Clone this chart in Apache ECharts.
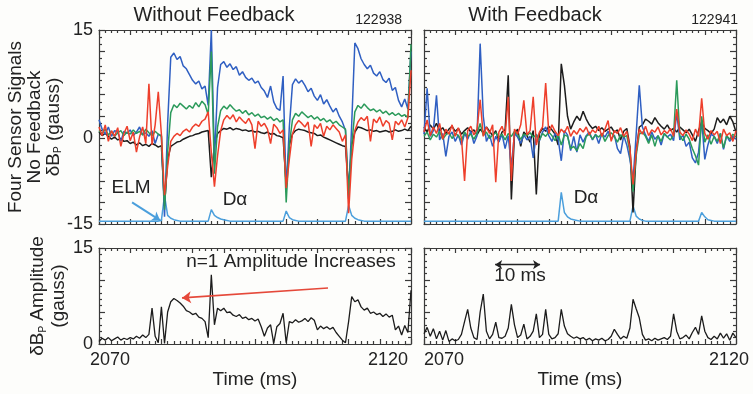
<!DOCTYPE html>
<html>
<head>
<meta charset="utf-8">
<script src="https://cdn.jsdelivr.net/npm/echarts@6/dist/echarts.min.js"></script>
<style>
html,body{margin:0;padding:0;background:#fdfdfb;}
#chart{width:753px;height:394px;}
</style>
</head>
<body>
<div id="chart"></div>
<script>
// Time base: samples every 0.5 ms from 2070 ms to 2120 ms (101 samples)
const t0 = 2070;
const dt = 0.5;
const timeTicks = [2070, 2120];

// Shot 122938 (no feedback): four magnetic sensor signals, gauss
const noFbBlack = [
  0.8,0.3,0.6,0.2,-0.2,0.1,-0.3,-0.1,-0.5,-0.4,
  -0.8,-0.6,-1.0,-0.7,-1.1,-0.9,-1.2,-0.8,-1.0,-1.3,
  -1.1,-9.5,-3.0,-1.2,-0.9,-0.6,-0.5,-0.2,0.0,0.2,
  0.3,0.5,0.6,0.8,0.9,1.0,-5.5,-1.0,0.6,1.0,
  1.3,1.2,1.4,1.1,1.3,1.2,1.0,1.1,0.9,1.0,
  0.8,0.9,0.7,0.6,0.8,0.5,0.6,0.3,0.2,0.0,
  -6.5,-1.0,0.5,1.0,1.2,1.1,1.0,0.8,0.7,0.6,
  0.3,0.4,0.1,-0.1,-0.3,-0.5,-0.7,-0.9,-1.1,-1.2,
  -7.0,-1.0,0.8,1.5,1.4,1.2,1.0,1.1,0.9,1.0,
  0.8,0.9,1.0,0.8,0.9,1.1,0.9,1.0,1.2,1.0,
  1.6
];
const noFbBlue = [
  2.5,1.2,0.5,1.5,0.2,1.0,0.8,-0.5,0.9,0.6,
  1.1,0.3,0.8,1.5,0.4,0.7,0.2,1.0,-0.8,0.5,
  0.3,-11.0,2.0,11.2,11.8,10.9,11.3,10.0,9.6,8.8,
  8.0,7.5,7.9,6.8,7.2,4.5,15.0,-3.0,7.0,10.2,
  10.6,9.8,10.3,9.5,9.9,8.7,9.2,8.4,8.0,8.3,
  7.6,7.9,7.0,6.5,5.6,7.2,5.0,4.1,3.8,8.6,
  -7.5,1.5,7.4,8.2,7.6,8.0,7.3,6.4,6.9,5.8,
  5.2,6.0,4.7,5.3,4.4,3.6,4.1,3.0,2.2,1.0,
  -8.5,2.0,13.2,12.4,11.0,10.2,9.6,10.1,9.0,8.6,
  9.2,8.1,7.7,8.3,6.6,7.0,5.2,4.3,5.4,4.0,
  12.0
];
const noFbGreen = [
  1.0,0.6,1.2,0.4,0.9,0.2,0.7,1.0,0.3,0.8,
  0.5,1.1,0.6,0.9,0.4,1.2,0.7,0.3,0.9,0.5,
  0.2,-10.0,-2.0,3.5,4.6,4.2,4.8,4.4,4.0,4.5,
  4.1,4.9,4.3,5.1,4.6,3.2,12.0,-5.0,1.5,3.8,
  4.4,4.0,4.6,4.1,3.7,3.9,3.4,3.8,3.2,3.5,
  3.0,3.3,2.8,3.0,2.6,2.9,2.4,2.7,2.2,2.5,
  -9.0,-1.0,2.5,3.4,3.0,3.6,3.2,2.8,3.1,2.6,
  2.9,2.4,2.7,2.2,2.5,2.0,2.3,1.8,1.5,1.2,
  -8.0,-1.0,3.6,4.5,4.1,4.7,4.2,3.8,4.0,3.6,
  3.9,3.4,3.7,3.2,3.5,3.1,3.4,3.0,3.2,2.8,
  13.0
];
const noFbRed = [
  1.5,0.3,1.8,-0.5,1.0,0.2,1.4,-1.2,0.6,1.6,
  -0.4,0.8,-2.0,0.1,1.5,-0.8,7.5,-1.0,1.8,6.4,
  0.5,-8.0,-4.0,-0.5,0.2,0.6,0.3,0.9,1.2,0.8,
  1.5,1.9,1.6,2.3,2.6,3.6,-2.0,-6.8,-2.5,1.0,
  2.5,3.1,2.6,3.2,2.2,2.9,2.4,2.0,2.7,1.8,
  -1.5,2.3,1.6,2.0,1.2,-0.8,1.9,1.4,0.6,1.1,
  -7.0,-3.0,0.5,1.8,2.4,2.0,1.5,2.2,-1.2,1.8,
  1.3,2.0,0.2,1.6,1.1,1.8,1.3,0.8,-0.5,0.4,
  -10.5,-3.0,1.0,2.2,2.8,2.4,3.0,-0.5,2.6,2.1,
  2.9,1.6,2.4,2.0,-0.3,2.3,1.8,2.5,1.5,2.8,
  9.4
];
// D-alpha emission trace, drawn along the bottom of the panel
const noFbDalpha = [
  -11.6,-11.6,-11.6,-11.6,-11.6,-11.6,-11.6,-11.6,-11.6,-11.6,
  -11.6,-11.6,-11.6,-11.6,-11.6,-11.6,-11.6,-11.6,-11.6,-11.6,
  -11.5,-8.0,-10.8,-11.2,-11.4,-11.5,-11.6,-11.6,-11.6,-11.6,
  -11.6,-11.6,-11.6,-11.6,-11.6,-11.6,-10.0,-10.8,-11.1,-11.3,
  -11.4,-11.5,-11.6,-11.6,-11.6,-11.6,-11.6,-11.6,-11.6,-11.6,
  -11.6,-11.6,-11.6,-11.6,-11.6,-11.6,-11.6,-11.6,-11.6,-11.6,
  -10.2,-11.1,-11.4,-11.5,-11.6,-11.6,-11.6,-11.6,-11.6,-11.6,
  -11.6,-11.6,-11.6,-11.6,-11.6,-11.6,-11.6,-11.6,-11.6,-11.6,
  -9.4,-10.8,-11.2,-11.4,-11.5,-11.6,-11.6,-11.6,-11.6,-11.6,
  -11.6,-11.6,-11.6,-11.6,-11.6,-11.6,-11.6,-11.6,-11.6,-11.6,
  -11.6
];

// Shot 122941 (with feedback)
const fbBlack = [
  1.5,0.8,1.8,1.2,2.0,1.0,1.4,0.6,1.2,1.6,
  0.9,1.3,0.5,1.0,1.4,0.8,1.1,0.4,1.2,0.7,
  1.5,0.9,0.3,1.0,-0.5,0.8,1.1,8.7,-8.6,0.5,
  1.2,-1.2,0.8,0.3,-0.6,1.0,-7.9,0.6,1.3,0.9,
  1.6,1.1,0.5,-1.0,10.3,7.3,3.0,1.2,2.2,3.0,
  2.4,3.7,2.6,1.8,1.3,1.6,1.0,1.4,0.9,1.2,
  1.5,0.8,1.1,-0.3,0.9,1.3,-1.2,-10.4,-2.0,1.5,
  1.8,2.6,2.3,1.9,2.8,2.1,1.6,1.2,1.8,1.0,
  1.3,0.8,1.5,1.1,0.7,1.2,0.4,-0.5,1.0,2.2,
  1.3,1.0,0.6,1.2,2.8,2.1,2.6,1.8,3.0,2.2,
  0.8
];
const fbBlue = [
  0.5,6.9,0.2,1.0,5.9,-0.3,0.6,-2.6,0.2,0.8,
  -0.5,0.4,-1.0,0.6,-0.2,0.9,-0.8,0.3,13.1,3.0,
  -0.5,0.4,-1.2,0.2,-0.6,0.5,-1.5,0.3,-4.0,0.6,
  0.1,-0.8,0.4,-0.3,0.2,-2.8,0.5,-0.4,0.8,1.5,
  0.3,-0.5,0.6,-0.2,-3.2,1.0,0.4,-1.8,0.2,-2.0,
  0.4,-0.6,0.3,0.8,-0.3,0.5,-0.8,0.6,0.1,0.9,
  -0.2,0.4,-1.5,-2.2,0.3,-1.0,-3.0,-6.0,0.5,7.3,
  1.5,0.4,-0.5,0.8,-0.2,0.3,-1.0,0.6,0.1,0.5,
  -0.4,3.5,-0.3,0.4,-1.2,-0.6,-2.8,-3.5,-2.0,2.5,
  -3.0,-1.0,0.5,0.2,-0.8,0.6,-1.6,0.3,-0.5,0.2,
  -0.2
];
const fbGreen = [
  0.2,0.8,-0.3,0.5,0.1,0.9,-0.2,0.4,0.7,-0.1,
  0.6,0.3,-0.4,0.8,0.2,0.5,-0.2,0.6,2.0,0.3,
  0.8,-0.1,0.4,0.7,0.1,0.5,-0.3,0.6,0.2,0.9,
  0.4,-0.2,0.5,0.3,0.7,0.1,0.4,-0.3,0.6,0.2,
  0.8,0.3,-0.4,0.5,-1.0,0.4,0.2,-1.5,-1.2,-1.8,
  -0.8,-1.5,0.2,0.5,-0.2,0.4,0.1,0.6,-0.5,0.3,
  0.7,0.2,-0.6,0.4,0.1,0.3,-2.0,-7.5,-2.5,0.5,
  0.8,0.2,-0.8,0.4,-1.2,0.3,-0.5,0.6,0.1,-0.3,
  0.4,8.0,0.3,-0.4,0.5,-0.2,-1.5,-2.5,-3.8,3.0,
  -0.6,0.4,-0.9,0.2,-0.5,0.6,-1.4,0.3,-0.2,0.5,
  0.1
];
const fbRed = [
  0.8,2.5,0.3,1.5,0.6,2.0,-0.2,1.2,0.5,1.8,
  0.2,1.4,0.0,-6.0,1.0,1.6,0.4,1.2,5.3,0.2,
  1.5,0.6,1.8,-6.2,0.8,1.6,0.3,5.7,-6.0,1.2,
  0.5,1.8,5.2,0.4,1.0,5.7,-1.0,0.8,1.5,7.6,
  0.6,1.8,0.9,0.3,1.2,0.7,1.6,0.2,1.0,0.5,
  1.3,0.8,1.5,0.4,1.1,0.7,1.6,0.2,1.2,2.4,
  -0.5,1.0,0.6,1.4,0.2,0.9,-1.5,-6.5,-2.0,1.2,
  0.5,1.6,0.3,1.1,0.8,1.5,0.4,1.0,0.6,1.3,
  0.2,4.0,0.8,0.3,1.1,0.5,-0.4,1.2,0.2,5.5,
  0.6,-0.2,1.0,0.4,0.9,-0.8,1.2,0.3,0.7,-0.5,
  1.0
];
const fbDalpha = [
  -11.6,-11.6,-11.6,-11.6,-11.6,-11.6,-11.6,-11.6,-11.6,-11.6,
  -11.6,-11.6,-11.6,-11.6,-11.6,-11.6,-11.6,-11.6,-11.6,-11.6,
  -11.6,-11.6,-11.6,-11.6,-11.6,-11.6,-11.6,-11.6,-11.6,-11.6,
  -11.6,-11.6,-11.6,-11.6,-11.6,-11.6,-11.6,-11.6,-11.6,-11.6,
  -11.6,-11.6,-11.6,-11.6,-7.6,-10.4,-11.0,-11.3,-11.4,-11.5,
  -11.6,-11.6,-11.6,-11.6,-11.6,-11.6,-11.6,-11.6,-11.6,-11.6,
  -11.6,-11.6,-11.6,-11.6,-11.6,-11.6,-11.6,-9.5,-10.9,-11.3,
  -11.5,-11.6,-11.6,-11.6,-11.6,-11.6,-11.6,-11.6,-11.6,-11.6,
  -11.6,-11.6,-11.6,-11.6,-11.6,-11.6,-11.6,-11.6,-11.6,-10.4,
  -11.0,-11.4,-11.5,-11.6,-11.6,-11.6,-11.6,-11.6,-11.6,-11.6,
  -11.6
];

// n=1 amplitude, gauss
const noFbAmp = [
  0.4,0.9,0.6,1.0,0.5,0.8,1.1,0.6,0.9,0.7,
  1.0,0.8,1.2,0.9,1.4,1.0,1.5,5.6,1.2,0.2,
  5.8,0.1,5.0,6.6,7.1,6.8,6.4,5.9,5.2,5.0,
  4.6,4.8,4.2,4.0,3.5,1.0,10.8,3.0,5.6,5.2,
  5.6,4.9,5.0,4.5,4.3,4.6,4.0,4.2,3.8,4.0,
  3.6,3.9,2.7,1.2,2.5,3.0,0.1,2.7,3.2,4.8,
  0.2,3.5,3.3,3.8,3.4,3.6,4.0,3.5,4.1,3.7,
  2.2,2.8,2.4,2.7,2.3,2.6,1.8,1.2,0.6,0.2,
  3.5,7.4,6.6,6.9,5.8,5.3,5.6,4.8,5.0,4.6,
  4.8,4.3,4.7,4.2,4.5,2.2,2.8,1.4,2.9,1.8,
  8.4
];
const fbAmp = [
  1.6,2.6,1.2,2.4,0.8,2.0,0.6,2.1,0.4,0.8,
  0.5,0.7,1.5,3.5,5.4,2.5,1.0,0.7,5.0,7.8,
  2.0,0.8,1.5,3.4,1.0,0.9,1.2,2.5,6.2,3.0,
  1.0,1.4,3.1,0.8,1.2,2.0,4.7,1.0,1.5,5.4,
  1.5,0.8,1.0,1.6,5.4,2.8,1.6,1.2,0.9,1.1,
  0.8,1.0,0.6,0.9,0.5,0.8,0.6,0.9,0.5,0.7,
  1.2,2.3,1.5,0.8,1.2,0.9,2.5,7.0,5.5,4.1,
  1.5,0.6,0.8,0.5,0.9,0.6,0.8,1.0,0.7,1.2,
  4.7,2.0,0.8,1.0,1.4,0.8,1.8,2.6,1.5,4.4,
  2.0,1.0,0.7,1.2,0.8,1.7,0.9,1.6,0.6,1.7,
  1.0
];

const FONT = "'Liberation Sans', Arial, Helvetica, sans-serif";
const INK = '#222';
const AXIS = '#3a3a3a';
const C_BLACK = '#1c1c1c', C_BLUE = '#2f5fc2', C_GREEN = '#2b9a5a', C_RED = '#ee3f2b', C_DA = '#4b9fdc';

function toXY(vals) {
  return vals.map((v, i) => [t0 + i * dt, v]);
}

const grids = [
  { left: 99,  top: 30,  width: 312, height: 194 },
  { left: 424, top: 30,  width: 312, height: 194 },
  { left: 99,  top: 248, width: 312, height: 96 },
  { left: 424, top: 248, width: 312, height: 96 }
];

const lineStyleAxis = { color: AXIS, width: 1.2 };

// Time tick labels: the end labels sit slightly inside/outside the frame corners
function timeLabel(g) {
  const base = { fontSize: 18, fontFamily: FONT, color: INK };
  if (g === 2) {
    return {
      show: true, customValues: timeTicks, margin: 7,
      alignMinLabel: 'center', alignMaxLabel: 'right',
      formatter: v => (v === timeTicks[0] ? '{lo|' + v + '}' : '{hi|' + v + '}'),
      rich: {
        lo: Object.assign({ padding: [0, 0, 0, 22] }, base),
        hi: Object.assign({ padding: [0, 3, 0, 0] }, base)
      }
    };
  }
  return {
    show: true, customValues: timeTicks, margin: 7,
    alignMinLabel: 'left', alignMaxLabel: 'center',
    formatter: v => (v === timeTicks[0] ? '{lo|' + v + '}' : '{hi|' + v + '}'),
    rich: {
      lo: Object.assign({ padding: [0, 0, 0, 0] }, base),
      hi: Object.assign({ padding: [0, 14, 0, 0] }, base)
    }
  };
}

function xAxisFor(g, pos) {
  const showLabels = pos === 'bottom' && g >= 2;
  return {
    gridIndex: g, type: 'value', position: pos, min: 2070, max: 2120, interval: 5,
    axisLine: { show: true, onZero: false, lineStyle: lineStyleAxis },
    axisTick: { show: true, inside: true, length: 5, lineStyle: lineStyleAxis },
    minorTick: { show: true, splitNumber: 5, length: 3, lineStyle: lineStyleAxis },
    splitLine: { show: false },
    axisLabel: showLabels ? timeLabel(g) : { show: false },
    name: showLabels ? 'Time (ms)' : '',
    nameLocation: 'middle', nameGap: 22,
    nameTextStyle: { fontSize: 19, fontFamily: FONT, color: INK }
  };
}

function yAxisFor(g, pos) {
  const top = g < 2;
  const ax = {
    gridIndex: g, type: 'value', position: pos,
    min: top ? -12 : 0, max: 15, interval: top ? 3 : 5,
    axisLine: { show: true, onZero: false, lineStyle: lineStyleAxis },
    axisTick: { show: true, inside: true, length: 6, lineStyle: lineStyleAxis },
    minorTick: { show: true, splitNumber: top ? 3 : 5, length: 3, lineStyle: lineStyleAxis },
    splitLine: { show: false },
    axisLabel: { show: false }
  };
  if (pos === 'left' && g === 0) {
    ax.axisLabel = {
      show: true, customValues: [-12, 0, 15], fontSize: 18, fontFamily: FONT, color: INK, margin: 6,
      formatter: v => (v === -12 ? '-15' : String(v))
    };
    ax.name = 'Four Sensor Signals\nNo Feedback\nδB{p|P} (gauss)';
    ax.nameLocation = 'middle';
    ax.nameRotate = 90;
    ax.nameGap = 33;
    ax.nameTextStyle = {
      fontSize: 19, fontFamily: FONT, color: INK, lineHeight: 19,
      rich: { p: { fontSize: 10, fontFamily: FONT, color: INK, verticalAlign: 'bottom', lineHeight: 19 } }
    };
  }
  if (pos === 'left' && g === 2) {
    ax.axisLabel = {
      show: true, customValues: [0, 15], fontSize: 18, fontFamily: FONT, color: INK, margin: 6
    };
    ax.name = 'δB{p|P} Amplitude\n(gauss)';
    ax.nameLocation = 'middle';
    ax.nameRotate = 90;
    ax.nameGap = 29;
    ax.nameTextStyle = {
      fontSize: 19, fontFamily: FONT, color: INK, lineHeight: 21,
      rich: { p: { fontSize: 10, fontFamily: FONT, color: INK, verticalAlign: 'bottom', lineHeight: 21 } }
    };
  }
  return ax;
}

const xAxes = [], yAxes = [];
for (let g = 0; g < 4; g++) { xAxes.push(xAxisFor(g, 'bottom')); yAxes.push(yAxisFor(g, 'left')); }
for (let g = 0; g < 4; g++) { xAxes.push(xAxisFor(g, 'top')); yAxes.push(yAxisFor(g, 'right')); }

function trace(name, vals, g, color, width, extra) {
  return Object.assign({
    name, type: 'line', data: toXY(vals), xAxisIndex: g, yAxisIndex: g,
    showSymbol: false, symbol: 'none', silent: true,
    lineStyle: { color, width: width }, itemStyle: { color }
  }, extra || {});
}

const series = [
  trace('Dα', noFbDalpha, 0, C_DA, 1.5, {
    markLine: {
      silent: true, symbol: ['none', 'arrow'], symbolSize: 8,
      label: { show: false },
      lineStyle: { color: C_DA, width: 2, type: 'solid' },
      data: [[{ coord: [2075.3, -9.0] }, { coord: [2079.8, -11.5] }]]
    }
  }),
  trace('black', noFbBlack, 0, C_BLACK, 1.5),
  trace('blue', noFbBlue, 0, C_BLUE, 1.5),
  trace('green', noFbGreen, 0, C_GREEN, 1.5),
  trace('red', noFbRed, 0, C_RED, 1.5),

  trace('Dα', fbDalpha, 1, C_DA, 1.5),
  trace('black', fbBlack, 1, C_BLACK, 1.5),
  trace('blue', fbBlue, 1, C_BLUE, 1.5),
  trace('green', fbGreen, 1, C_GREEN, 1.5),
  trace('red', fbRed, 1, C_RED, 1.5),

  trace('n=1', noFbAmp, 2, C_BLACK, 1.3, {
    markLine: {
      silent: true, symbol: ['none', 'arrow'], symbolSize: 9,
      label: { show: false },
      lineStyle: { color: '#e5493a', width: 1.6, type: 'solid' },
      data: [[{ coord: [2106.7, 8.75] }, { coord: [2083.3, 7.2] }]]
    }
  }),
  trace('n=1', fbAmp, 3, C_BLACK, 1.3, {
    markLine: {
      silent: true, symbol: ['arrow', 'arrow'], symbolSize: 7,
      label: { show: false },
      lineStyle: { color: '#222', width: 1.4, type: 'solid' },
      data: [[{ coord: [2081.4, 12.4] }, { coord: [2088.6, 12.4] }]]
    }
  })
];

function label(text, x, y, size, align) {
  return {
    type: 'text', x, y, silent: true,
    style: { text, fontSize: size, fontFamily: FONT, fill: INK, align: align || 'center', verticalAlign: 'middle' }
  };
}

const chart = echarts.init(document.getElementById('chart'), null, { renderer: 'canvas' });
chart.setOption({
  animation: false,
  backgroundColor: '#fdfdfb',
  grid: grids,
  xAxis: xAxes,
  yAxis: yAxes,
  series,
  graphic: [
    label('Without Feedback', 214, 15, 20),
    label('122938', 402, 20, 14, 'right'),
    label('With Feedback', 535, 15, 20),
    label('122941', 738, 20, 14, 'right'),
    label('ELM', 131, 188, 19),
    label('Dα', 235, 200, 19),
    label('Dα', 586, 198, 19),
    label('n=1 Amplitude Increases', 291, 262, 19),
    label('10 ms', 520, 276, 19)
  ]
});
</script>
</body>
</html>
